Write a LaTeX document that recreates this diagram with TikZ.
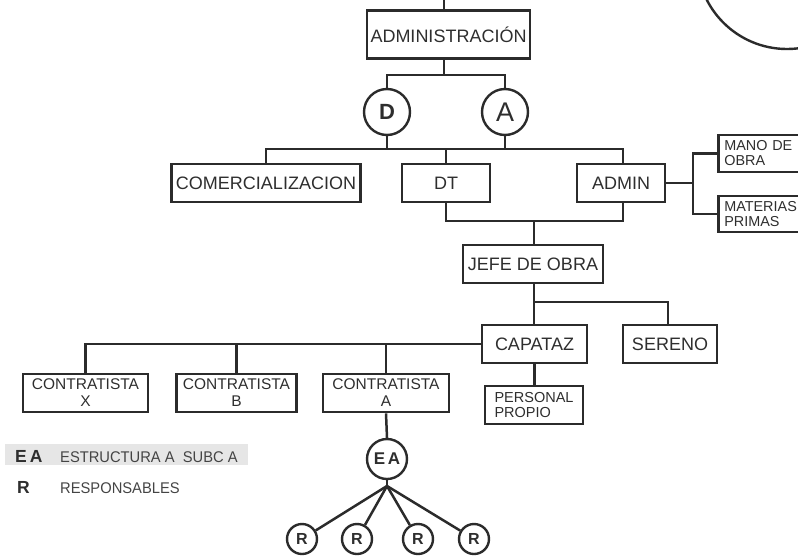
\documentclass[tikz,border=0pt]{standalone}
\usepackage{fontspec}
\setmainfont{Liberation Sans}
\newfontfamily\legendfont[FakeStretch=0.95]{Liberation Sans}
\definecolor{ink}{HTML}{2B2B2B}
\definecolor{txt}{HTML}{2E2E2E}
\definecolor{legtxt}{HTML}{444444}
\definecolor{band}{HTML}{E6E6E6}
\begin{document}
\begin{tikzpicture}[x=1pt,y=-1pt,
  box/.style={draw=ink,line width=2.6pt,inner sep=0pt,minimum height=38pt,
    text=txt,font=\fontsize{18}{19}\selectfont},
  twoline/.style={box,align=center,font=\fontsize{15.5}{17}\selectfont},
  sidebox/.style={draw=ink,line width=2.6pt,inner xsep=6pt,inner ysep=0pt,
    text width=81pt,align=left,text=txt,font=\fontsize{14.4}{15}\selectfont},
  leftbox/.style={box,align=left,font=\fontsize{14.5}{15}\selectfont},
  bigcirc/.style={circle,draw=ink,line width=2.4pt,inner sep=0pt,minimum size=46pt,text=txt},
  midcirc/.style={circle,draw=ink,line width=2.4pt,inner sep=0pt,minimum size=40pt,text=txt,
    font=\fontsize{17}{17}\selectfont\bfseries},
  smallcirc/.style={circle,draw=ink,line width=2.4pt,inner sep=0pt,minimum size=30pt,text=txt,
    font=\fontsize{16}{16}\selectfont\bfseries},
  link/.style={draw=ink,line width=2.5pt},
  legkey/.style={anchor=base west,inner sep=0pt,text=txt,font=\fontsize{17.5}{17}\selectfont\bfseries},
  legtext/.style={anchor=base west,inner sep=0pt,text=legtxt,font=\legendfont\fontsize{15.5}{15}\selectfont}]

\useasboundingbox (0,0) rectangle (798,555);
\clip (0,0) rectangle (798,555);

% decorative circle at the top right corner
\draw[ink,line width=2.4pt] (787,-41) circle (90);

% bus coordinates
\coordinate (top) at (444,0);
\coordinate (b1) at (444,75);
\coordinate (b2) at (0,149);
\coordinate (b3) at (0,221);
\coordinate (b4) at (0,302);
\coordinate (bx) at (693,0);
\coordinate (hub) at (387,486);

% nodes
\node[box,minimum width=163pt,minimum height=48pt] (adm) at (448.5,34.5) {ADMINISTRACIÓN};
\node[bigcirc,font=\fontsize{22}{22}\selectfont\bfseries] (d) at (387,112) {D};
\node[bigcirc,font=\fontsize{27}{27}\selectfont] (a) at (505,112) {A};

\node[box,minimum width=189pt] (com) at (266,183) {COMERCIALIZACION};
\node[box,minimum width=88pt] (dt) at (446,183) {DT};
\node[box,minimum width=88pt] (admin) at (621,183) {ADMIN};

\node[sidebox,minimum height=37pt,anchor=west] (mano) at (717,153.5) {MANO DE\\OBRA};
\node[sidebox,minimum height=36pt,anchor=west] (mat) at (717,214) {MATERIAS\\PRIMAS};

\node[box,minimum width=140pt] (jefe) at (533,264) {JEFE DE OBRA};
\node[box,minimum width=105pt] (cap) at (534.5,344) {CAPATAZ};
\node[box,minimum width=94pt] (ser) at (670,344) {SERENO};
\node[leftbox,minimum width=98pt] (pers) at (534,405) {PERSONAL\\PROPIO};

\node[twoline,minimum width=125pt] (cx) at (85.5,393) {CONTRATISTA\\X};
\node[twoline,minimum width=120pt] (cb) at (236.5,393) {CONTRATISTA\\B};
\node[twoline,minimum width=126pt] (ca) at (386,393) {CONTRATISTA\\A};

\node[midcirc] (ea) at (387,459) {E\,A};
\node[smallcirc] (r1) at (302,539) {R};
\node[smallcirc] (r2) at (357,539) {R};
\node[smallcirc] (r3) at (418,539) {R};
\node[smallcirc] (r4) at (474,539) {R};

% connectors
\draw[link] (top) -- (adm.north -| top);
\draw[link] (adm.south -| b1) -- (b1);
\draw[link] (d.north) -- (d.north |- b1) -- (a.north |- b1) -- (a.north);

\draw[link] (d.south) -- (d.south |- b2);
\draw[link] (a.south) -- (a.south |- b2);
\draw[link] (com.north) -- (com.north |- b2) -- ([xshift=2pt]admin.north |- b2) -- ([xshift=2pt]admin.north);
\draw[link] (dt.north) -- (dt.north |- b2);

\draw[link] (dt.south) -- (dt.south |- b3) -- ([xshift=2pt]admin.south |- b3) -- ([xshift=2pt]admin.south);
\draw[link] ([xshift=1pt]jefe.north |- b3) -- ([xshift=1pt]jefe.north);

\draw[link] (admin.east) -- (admin.east -| bx);
\draw[link] (mano.west) -- (mano.west -| bx) -- (mat.west -| bx) -- (mat.west);

\draw[link] ([xshift=1pt]jefe.south) -- ([xshift=1pt]jefe.south |- cap.north);
\draw[link] ([xshift=1pt]jefe.south |- b4) -- ([xshift=-2pt]ser.north |- b4) -- ([xshift=-2pt]ser.north);
\draw[link] (cap.south) -- (pers.north -| cap.south);

\draw[link] (cap.west) -- (cx.north |- cap.west) -- (cx.north);
\draw[link] (cb.north |- cap.west) -- (cb.north);
\draw[link] (ca.north |- cap.west) -- (ca.north);

\draw[link] (ca.south) -- (ea.north);
\draw[link] (ea.south) -- (hub);
\foreach \r in {r1,r2,r3,r4} \draw[link] (hub) -- (\r);

% legend
\fill[band] (5,444) rectangle (248,465);
\node[legkey] (k1) at (15,462) {E\,A};
\node[legtext] (t1) at (60,462) {ESTRUCTURA A \ SUBC A};
\node[legkey] (k2) at (17,493) {R};
\node[legtext] (t2) at (60,493) {RESPONSABLES};
\end{tikzpicture}
\end{document}
